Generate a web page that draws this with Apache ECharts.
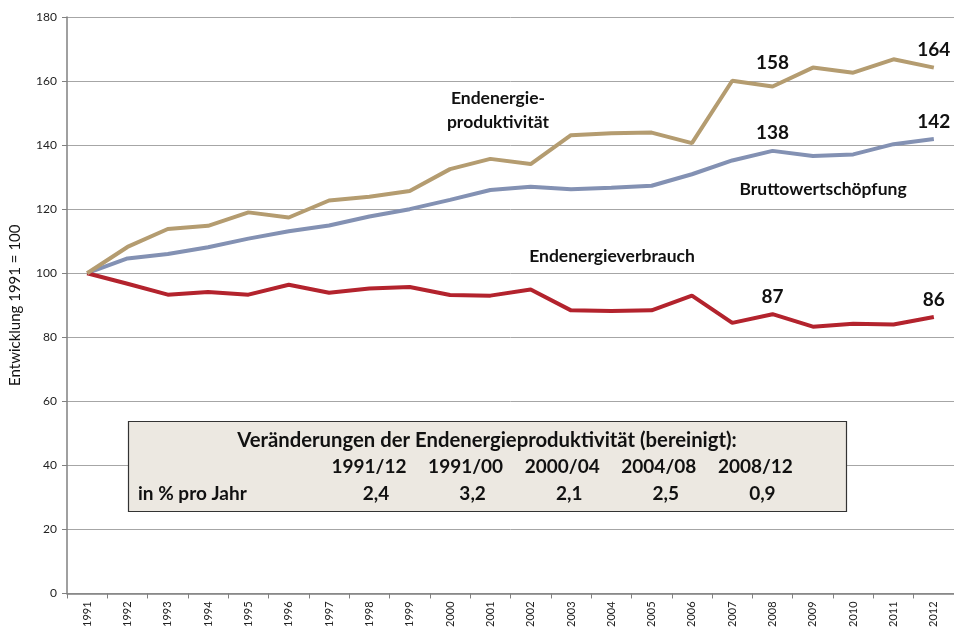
<!DOCTYPE html>
<html>
<head>
<meta charset="utf-8">
<script src="https://cdn.jsdelivr.net/npm/echarts@6/dist/echarts.min.js"></script>
<style>html,body{margin:0;padding:0;background:#fff}#c{width:954px;height:630px}</style>
</head>
<body>
<div id="c"></div>
<script>
const years = ['1991','1992','1993','1994','1995','1996','1997','1998','1999','2000','2001','2002','2003','2004','2005','2006','2007','2008','2009','2010','2011','2012'];
const produktivitaet = [100,108.2,113.8,114.8,119.0,117.4,122.7,123.9,125.7,132.5,135.7,134.1,143.1,143.7,143.9,140.6,160.1,158.3,164.2,162.6,166.8,164.2];
const bruttowert = [100,104.6,106.0,108.1,110.8,113.1,114.9,117.7,120.0,122.9,126.0,127.0,126.2,126.7,127.3,130.9,135.2,138.2,136.6,137.1,140.3,141.9];
const verbrauch = [100,96.7,93.3,94.1,93.3,96.4,93.9,95.2,95.7,93.2,93.0,94.9,88.4,88.2,88.4,93.0,84.5,87.2,83.3,84.2,84.0,86.3];
const labelled = ['2008','2012'];
const tableTitle = 'Veränderungen der Endenergieproduktivität (bereinigt):';
const periods = ['1991/12','1991/00','2000/04','2004/08','2008/12'];
const rates = ['2,4','3,2','2,1','2,5','0,9'];
const rowLabel = 'in % pro Jahr';

const FONT = 'Lato, "Noto Sans", sans-serif';
function withLabels(arr, dist) {
  return arr.map((v, i) => {
    const idx = labelled.indexOf(years[i]);
    if (idx < 0) return v;
    return {value: v, label: {show: true, position: 'top', distance: dist[idx],
      formatter: p => Math.round(p.value), fontFamily: FONT, fontWeight: 'bold', fontSize: 19,
      color: '#111', backgroundColor: '#fff', padding: [0, 3]}};
  });
}
const chart = echarts.init(document.getElementById('c'), null, {renderer: 'canvas'});
const colStart = 369, colStep = 96.6;
const TF = 'bold 19px ' + FONT;
const g = [];
g.push({type: 'rect', shape: {x: 128.5, y: 421.5, width: 718, height: 90}, style: {fill: '#ECE8E1', stroke: '#333', lineWidth: 1.2}, z: 50});
g.push({type: 'text', x: 487, y: 440, style: {text: tableTitle, font: 'bold 20.3px ' + FONT, fill: '#111', align: 'center', verticalAlign: 'middle'}, z: 51});
periods.forEach((p, i) => {
  g.push({type: 'text', x: colStart + i * colStep, y: 467, style: {text: p, font: TF, fill: '#111', align: 'center', verticalAlign: 'middle'}, z: 51});
  g.push({type: 'text', x: colStart + 7 + i * colStep, y: 494, style: {text: rates[i], font: TF, fill: '#111', align: 'center', verticalAlign: 'middle'}, z: 51});
});
g.push({type: 'text', x: 138, y: 494, style: {text: rowLabel, font: TF, fill: '#111', align: 'left', verticalAlign: 'middle'}, z: 51});
const AF = 'bold 17.5px ' + FONT;
g.push({type: 'text', x: 498, y: 110, style: {text: 'Endenergie-\nproduktivität', font: AF, fill: '#111', align: 'center', verticalAlign: 'middle', lineHeight: 24}, z: 51});
g.push({type: 'text', x: 823, y: 189, style: {text: 'Bruttowertschöpfung', font: AF, fill: '#111', align: 'center', verticalAlign: 'middle'}, z: 51});
g.push({type: 'text', x: 612, y: 256, style: {text: 'Endenergieverbrauch', font: AF, fill: '#111', align: 'center', verticalAlign: 'middle'}, z: 51});

const lineCommon = {type: 'line', symbol: 'circle', symbolSize: 0, showSymbol: true, showAllSymbol: true};
chart.setOption({
  animation: false,
  backgroundColor: '#fff',
  grid: {left: 67, right: 0, top: 17, bottom: 36},
  xAxis: {
    type: 'category', data: years, boundaryGap: true,
    axisLine: {lineStyle: {color: '#808080', width: 1.5}},
    axisTick: {show: true, alignWithLabel: false, length: 5, lineStyle: {color: '#808080'}},
    axisLabel: {rotate: 90, fontFamily: FONT, fontSize: 11, color: '#222', margin: 8}
  },
  yAxis: {
    type: 'value', min: 0, max: 180, interval: 20,
    name: 'Entwicklung 1991 = 100', nameLocation: 'middle', nameGap: 44, nameRotate: 90,
    nameTextStyle: {fontFamily: FONT, fontSize: 15, color: '#111'},
    axisLine: {show: true, lineStyle: {color: '#808080', width: 1.5}},
    axisTick: {show: true, length: 5, lineStyle: {color: '#808080'}},
    axisLabel: {fontFamily: FONT, fontSize: 12, color: '#222', margin: 10},
    splitLine: {show: true, lineStyle: {color: '#A6A6A6', width: 1}}
  },
  series: [
    Object.assign({}, lineCommon, {name: 'Endenergieproduktivität', data: withLabels(produktivitaet, [14, 8]), lineStyle: {color: '#B49C70', width: 4}, itemStyle: {color: '#B49C70'}, z: 3}),
    Object.assign({}, lineCommon, {name: 'Bruttowertschöpfung', data: withLabels(bruttowert, [8, 8]), lineStyle: {color: '#8391B3', width: 4}, itemStyle: {color: '#8391B3'}, z: 2}),
    Object.assign({}, lineCommon, {name: 'Endenergieverbrauch', data: withLabels(verbrauch, [8, 8]), lineStyle: {color: '#B3232D', width: 4}, itemStyle: {color: '#B3232D'}, z: 2})
  ],
  graphic: g
});
</script>
</body>
</html>
